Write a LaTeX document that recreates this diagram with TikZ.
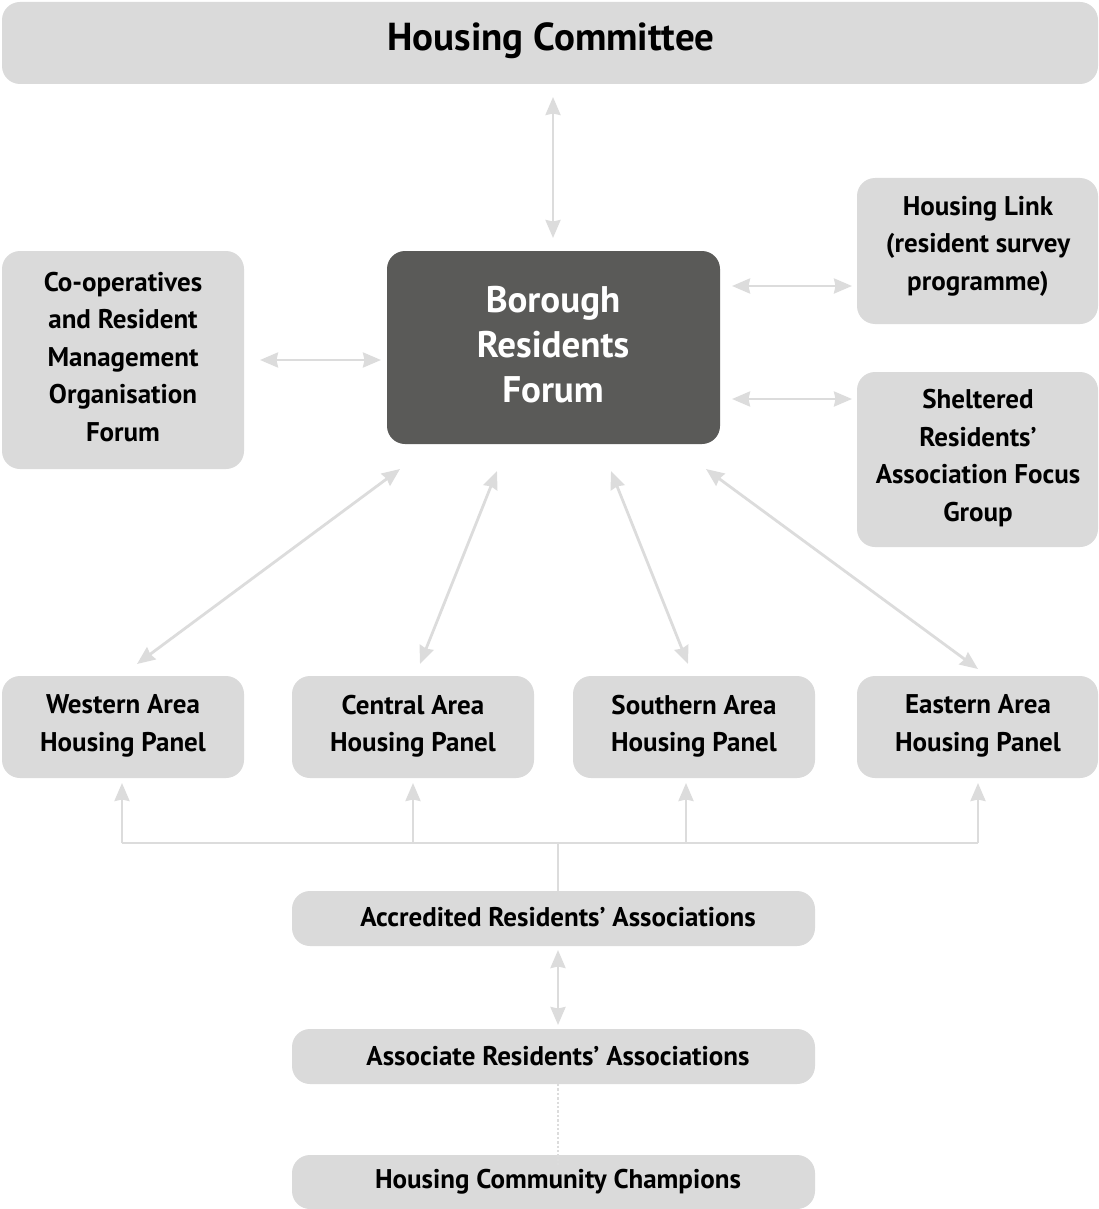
\documentclass[tikz,border=0pt]{standalone}
\usepackage{fontspec}
\setmainfont{PT Sans}
\usetikzlibrary{arrows.meta}
\definecolor{boxgray}{HTML}{DADADA}
\definecolor{darkbox}{HTML}{5A5A58}
\definecolor{linegray}{HTML}{DCDCDC}
\tikzset{
  x=1pt, y=-1pt,
  lbox/.style={fill=boxgray, draw=none, rounded corners=18pt},
  dbox/.style={fill=darkbox, draw=none, rounded corners=18pt},
  btxt/.style={align=center, font=\fontsize{27}{37.5}\selectfont\bfseries, text=black},
  tip/.tip={Stealth[length=18pt,width=15pt,inset=1.5pt]},
  conn/.style={draw=linegray, line width=2.8pt, tip-tip},
  conn1/.style={draw=linegray, line width=2.8pt, -tip},
  plain/.style={draw=linegray, line width=2.8pt},
}
\begin{document}
\begin{tikzpicture}
\useasboundingbox (0,0) rectangle (1098,1209);
% boxes
\fill[lbox] (2,2) rectangle (1098,84);
\node[font=\fontsize{39}{42}\selectfont\bfseries] (hc) at (551,41) {Housing Committee};

\fill[dbox] (387,251) rectangle (720,444);
\node[align=center, text=white, font=\fontsize{37}{45}\selectfont\bfseries] (brf) at (553,345) {Borough\\Residents\\Forum};

\fill[lbox] (2,251) rectangle (244,469);
\node[btxt] (coop) at (123,357) {Co-operatives\\and Resident\\Management\\Organisation\\Forum};

\fill[lbox] (857,178) rectangle (1098,324);
\node[btxt] (link) at (978,246) {Housing Link\\(resident survey\\programme)};

\fill[lbox] (857,372) rectangle (1098,547);
\node[btxt] (shel) at (978,458) {Sheltered\\Residents’\\Association Focus\\Group};

\fill[lbox] (2,676) rectangle (244,778);
\node[btxt] (west) at (123,726) {Western Area\\Housing Panel};
\fill[lbox] (292,676) rectangle (534,778);
\node[btxt] (cent) at (413,726) {Central Area\\Housing Panel};
\fill[lbox] (573,676) rectangle (815,778);
\node[btxt] (south) at (694,726) {Southern Area\\Housing Panel};
\fill[lbox] (857,676) rectangle (1098,778);
\node[btxt] (east) at (978,726) {Eastern Area\\Housing Panel};

\fill[lbox] (292,891) rectangle (815,946);
\node[btxt] (accr) at (558,917) {Accredited Residents’ Associations};
\fill[lbox] (292,1029) rectangle (815,1084);
\node[btxt] (asso) at (558,1056) {Associate Residents’ Associations};
\fill[lbox] (292,1155) rectangle (815,1209);
\node[btxt] (champ) at (558,1182) {Housing Community Champions};

% coordinates for connector ends
\coordinate (a1) at (553,97);   \coordinate (a2) at (553,238);
\coordinate (b1) at (260,360);  \coordinate (b2) at (381,360);
\coordinate (c1) at (732,286);  \coordinate (c2) at (852,286);
\coordinate (d1) at (732,399);  \coordinate (d2) at (852,399);
\coordinate (e1) at (400,469);  \coordinate (e2) at (137,664);
\coordinate (f1) at (497,471);  \coordinate (f2) at (420,664);
\coordinate (g1) at (611,471);  \coordinate (g2) at (688,664);
\coordinate (h1) at (706,469);  \coordinate (h2) at (978,669);

\draw[conn] (a1) -- (a2);
\draw[conn] (b1) -- (b2);
\draw[conn] (c1) -- (c2);
\draw[conn] (d1) -- (d2);
\draw[conn] (e1) -- (e2);
\draw[conn] (f1) -- (f2);
\draw[conn] (g1) -- (g2);
\draw[conn] (h1) -- (h2);

% tree
\coordinate (tw) at (122,843); \coordinate (tc) at (413,843);
\coordinate (ts) at (686,843); \coordinate (te) at (978,843);
\coordinate (tm) at (558,843); \coordinate (tm2) at (558,891);
\coordinate (pw) at (122,783); \coordinate (pc) at (413,783);
\coordinate (ps) at (686,783); \coordinate (pe) at (978,783);
\draw[plain, line join=miter] (tw) -- (te);
\draw[plain] (tm) -- (tm2);
\draw[conn1] (tw) -- (pw);
\draw[conn1] (tc) -- (pc);
\draw[conn1] (ts) -- (ps);
\draw[conn1] (te) -- (pe);

\coordinate (i1) at (558,950); \coordinate (i2) at (558,1025);
\draw[conn] (i1) -- (i2);
\coordinate (j1) at (558,1084); \coordinate (j2) at (558,1165);
\draw[draw=linegray, line width=2.4pt, dotted] (j1) -- (j2);
\end{tikzpicture}
\end{document}
